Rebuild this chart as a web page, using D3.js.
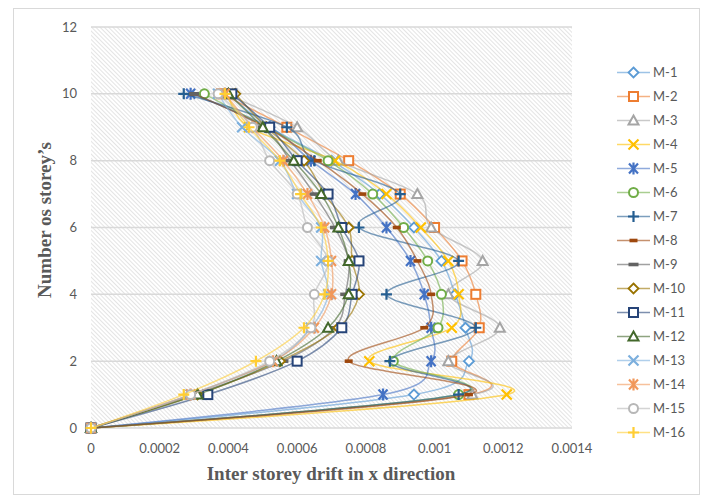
<!DOCTYPE html>
<html>
<head>
<meta charset="utf-8">
<script src="https://cdn.jsdelivr.net/npm/d3@7"></script>
<style>
  body { margin: 0; background: #fff; }
  .tick-label { font-family: Lato, "Liberation Sans", sans-serif; font-size: 13px; fill: #595959; }
  .axis-title { font-family: "Liberation Serif", "Times New Roman", serif; font-size: 19px; font-weight: bold; fill: #595959; }
</style>
</head>
<body>
<div id="chart"></div>
<script>
const width = 710, height = 500;

// data
const storeys = [0, 1, 2, 3, 4, 5, 6, 7, 8, 9, 10];
const seriesNames = ["M-1","M-2","M-3","M-4","M-5","M-6","M-7","M-8","M-9","M-10","M-11","M-12","M-13","M-14","M-15","M-16"];
const m1  = [0, 0.00094, 0.00110, 0.00109, 0.00106, 0.00102, 0.00094, 0.00084, 0.00070, 0.00052, 0.00040];
const m2  = [0, 0.00110, 0.00105, 0.00113, 0.00112, 0.00108, 0.00100, 0.00090, 0.00075, 0.00057, 0.00038];
const m3  = [0, 0.00111, 0.00104, 0.00119, 0.00104, 0.00114, 0.00099, 0.00095, 0.00072, 0.00060, 0.00039];
const m4  = [0, 0.00121, 0.00081, 0.00105, 0.00107, 0.00104, 0.00096, 0.00086, 0.00071, 0.00046, 0.00040];
const m5  = [0, 0.00085, 0.00099, 0.00099, 0.00097, 0.00093, 0.00086, 0.00077, 0.00064, 0.00052, 0.00029];
const m6  = [0, 0.00107, 0.00088, 0.00101, 0.00102, 0.00098, 0.00091, 0.00082, 0.00069, 0.00051, 0.00033];
const m7  = [0, 0.00107, 0.00087, 0.00112, 0.00086, 0.00107, 0.00078, 0.00090, 0.00065, 0.00057, 0.00027];
const m8  = [0, 0.00110, 0.00075, 0.00097, 0.00099, 0.00095, 0.00089, 0.00079, 0.00066, 0.00051, 0.00030];
const m9  = [0, 0.00030, 0.00056, 0.00071, 0.00074, 0.00075, 0.00071, 0.00065, 0.00058, 0.00050, 0.00030];
const m10 = [0, 0.00031, 0.00055, 0.00072, 0.00078, 0.00076, 0.00075, 0.00068, 0.00062, 0.00051, 0.00042];
const m11 = [0, 0.00034, 0.00060, 0.00073, 0.00076, 0.00078, 0.00073, 0.00069, 0.00060, 0.00052, 0.00041];
const m12 = [0, 0.00031, 0.00054, 0.00069, 0.00075, 0.00075, 0.00072, 0.00067, 0.00059, 0.00050, 0.00040];
const m13 = [0, 0.00029, 0.00053, 0.00064, 0.00069, 0.00067, 0.00067, 0.00060, 0.00055, 0.00044, 0.00037];
const m14 = [0, 0.00029, 0.00053, 0.00065, 0.00070, 0.00070, 0.00068, 0.00063, 0.00056, 0.00047, 0.00039];
const m15 = [0, 0.00029, 0.00052, 0.00064, 0.00065, 0.00069, 0.00063, 0.00060, 0.00052, 0.00047, 0.00037];
const m16 = [0, 0.00027, 0.00048, 0.00062, 0.00068, 0.00069, 0.00067, 0.00061, 0.00055, 0.00046, 0.00039];
const allValues = [m1, m2, m3, m4, m5, m6, m7, m8, m9, m10, m11, m12, m13, m14, m15, m16];

const xTicks = [0, 0.0002, 0.0004, 0.0006, 0.0008, 0.001, 0.0012, 0.0014];
const yTicks = [0, 2, 4, 6, 8, 10, 12];

const colors = ["#5B9BD5","#ED7D31","#A5A5A5","#FFC000","#4472C4","#70AD47","#255E91","#9E480E",
                "#636363","#997300","#264478","#43682B","#7CAFDD","#F1975A","#B7B7B7","#FFCD33"];
const markers = ["diamond","square","triangle","x","star","circle","plus","dash",
                 "longdash","diamond","square","triangle","x","star","circle","plus"];

const plot = {left: 91, right: 572, top: 27, bottom: 428};

const x = d3.scaleLinear().domain([0, 0.0014]).range([plot.left, plot.right]);
const y = d3.scaleLinear().domain([0, 12]).range([plot.bottom, plot.top]);

const svg = d3.select("#chart").append("svg")
    .attr("width", width)
    .attr("height", height);

// hatch pattern for plot area
const defs = svg.append("defs");
const pat = defs.append("pattern")
    .attr("id", "hatch")
    .attr("patternUnits", "userSpaceOnUse")
    .attr("width", 3)
    .attr("height", 3)
    .attr("patternTransform", "rotate(-45)");
pat.append("line")
    .attr("x1", 0).attr("y1", 0).attr("x2", 0).attr("y2", 3)
    .attr("stroke", "#c9c9c9")
    .attr("stroke-width", 1);

// chart border
svg.append("rect")
    .attr("x", 13.5).attr("y", 8.5)
    .attr("width", 686).attr("height", 486)
    .attr("fill", "#fff")
    .attr("stroke", "#d9d9d9");

svg.append("rect")
    .attr("x", plot.left).attr("y", plot.top)
    .attr("width", plot.right - plot.left)
    .attr("height", plot.bottom - plot.top)
    .attr("fill", "url(#hatch)");

// gridlines
svg.append("g").selectAll("line").data(yTicks).join("line")
    .attr("x1", plot.left).attr("x2", plot.right)
    .attr("y1", d => y(d)).attr("y2", d => y(d))
    .attr("stroke", "#d9d9d9")
    .attr("stroke-width", 1.5);

// tick labels
svg.append("g").selectAll("text").data(yTicks).join("text")
    .attr("class", "tick-label")
    .attr("x", plot.left - 14)
    .attr("y", d => y(d))
    .attr("dy", "0.35em")
    .attr("text-anchor", "end")
    .text(d => d);

svg.append("g").selectAll("text").data(xTicks).join("text")
    .attr("class", "tick-label")
    .attr("x", d => x(d))
    .attr("y", plot.bottom + 25)
    .attr("text-anchor", "middle")
    .text(d => d === 0 ? "0" : String(+d.toFixed(4)));

// axis titles
svg.append("text")
    .attr("class", "axis-title")
    .attr("x", 331)
    .attr("y", 480)
    .attr("text-anchor", "middle")
    .text("Inter storey drift in x direction");

svg.append("text")
    .attr("class", "axis-title")
    .attr("transform", "translate(51,220) rotate(-90)")
    .attr("text-anchor", "middle")
    .text("Number os storey\u2019s");

function drawMarker(g, type, color) {
    if (type === "diamond") {
        g.append("path").attr("d", "M0,-5L5,0L0,5L-5,0Z")
            .attr("fill", "#fff").attr("stroke", color).attr("stroke-width", 1.8);
    } else if (type === "square") {
        g.append("rect").attr("x", -4.5).attr("y", -4.5).attr("width", 9).attr("height", 9)
            .attr("fill", "#fff").attr("stroke", color).attr("stroke-width", 2);
    } else if (type === "triangle") {
        g.append("path").attr("d", "M0,-5L5,4L-5,4Z")
            .attr("fill", "#fff").attr("stroke", color).attr("stroke-width", 2);
    } else if (type === "circle") {
        g.append("circle").attr("r", 4.5)
            .attr("fill", "#fff").attr("stroke", color).attr("stroke-width", 2);
    } else if (type === "x") {
        g.append("path").attr("d", "M-5,-5L5,5M-5,5L5,-5")
            .attr("stroke", color).attr("stroke-width", 2.2);
    } else if (type === "star") {
        g.append("path").attr("d", "M-4.5,-5L4.5,5M-4.5,5L4.5,-5M0,-6L0,6")
            .attr("stroke", color).attr("stroke-width", 2.2);
    } else if (type === "plus") {
        g.append("path").attr("d", "M-5.5,0L5.5,0M0,-5.5L0,5.5")
            .attr("stroke", color).attr("stroke-width", 2.2);
    } else if (type === "dash") {
        g.append("rect").attr("x", -4).attr("y", -1.8).attr("width", 8).attr("height", 3.6)
            .attr("fill", color);
    } else if (type === "longdash") {
        g.append("rect").attr("x", -5).attr("y", -1.8).attr("width", 10).attr("height", 3.6)
            .attr("fill", color);
    }
}

const line = d3.line()
    .x(d => x(d[0]))
    .y(d => y(d[1]))
    .curve(d3.curveCardinal.tension(0));

const seriesG = svg.append("g");
seriesNames.forEach((name, i) => {
    const pts = storeys.map((s, j) => [allValues[i][j], s]);
    const g = seriesG.append("g");
    g.append("path")
        .datum(pts)
        .attr("d", line)
        .attr("fill", "none")
        .attr("stroke", colors[i])
        .attr("stroke-opacity", 0.6)
        .attr("stroke-width", 1.5);
    pts.forEach(p => {
        const mg = g.append("g").attr("transform", `translate(${x(p[0])},${y(p[1])})`);
        drawMarker(mg, markers[i], colors[i]);
    });
});

// legend
const legend = svg.append("g");
seriesNames.forEach((name, i) => {
    const ly = 72.5 + i * 24;
    const g = legend.append("g").attr("transform", `translate(617,${ly})`);
    g.append("line")
        .attr("x1", 0).attr("x2", 33)
        .attr("stroke", colors[i])
        .attr("stroke-opacity", 0.6)
        .attr("stroke-width", 1.5);
    const mg = g.append("g").attr("transform", "translate(16.5,0)");
    drawMarker(mg, markers[i], colors[i]);
    g.append("text")
        .attr("class", "tick-label")
        .attr("x", 36)
        .attr("dy", "0.35em")
        .text(name);
});
</script>
</body>
</html>
